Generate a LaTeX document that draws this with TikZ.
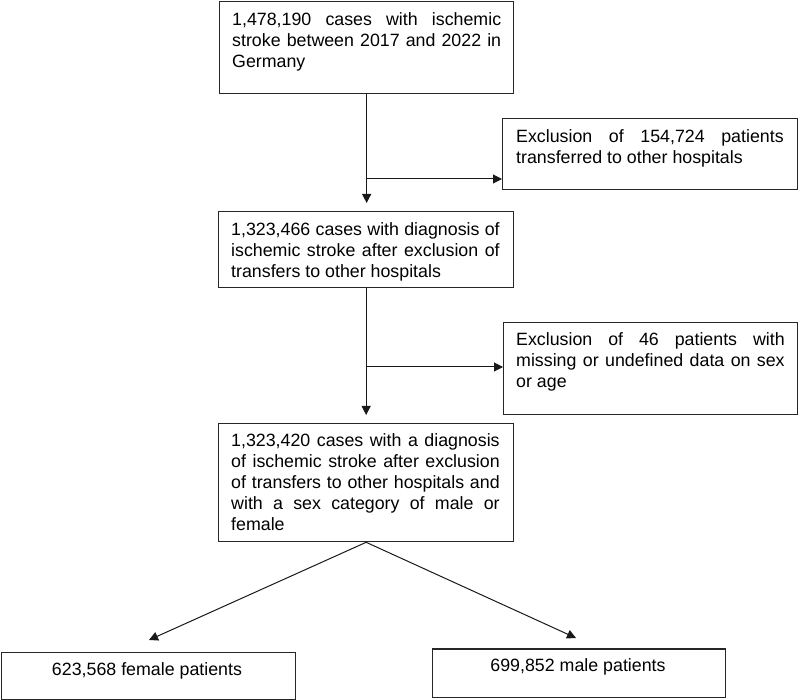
\documentclass[tikz,border=0pt]{standalone}
\usepackage{fontspec}
\setmainfont{Liberation Sans}
\usetikzlibrary{arrows.meta}
\tolerance=10000 \hbadness=10000 \hyphenpenalty=10000 \exhyphenpenalty=10000
\begin{document}
\begin{tikzpicture}[x=1pt,y=-1pt,
 box/.style={draw=black!85, line width=1.3pt, inner sep=0pt, anchor=north west},
 txt/.style={inner sep=0pt, anchor=north west, align=justify, font=\fontsize{17.8}{21}\selectfont},
 ctxt/.style={inner sep=0pt, anchor=base, font=\fontsize{17.8}{21}\selectfont},
 arr/.style={draw=black!90, line width=1pt, -{Triangle[length=9pt,width=9pt]}}]
\useasboundingbox (0,0) rectangle (798,700);
% boxes
\node[box, minimum width=294pt, minimum height=92pt] (b1) at (219,1) {};
\node[box, minimum width=295pt, minimum height=71pt] (ex1) at (502,118) {};
\node[box, minimum width=295pt, minimum height=76pt] (b2) at (218,211) {};
\node[box, minimum width=294pt, minimum height=92pt] (ex2) at (503,322) {};
\node[box, minimum width=295pt, minimum height=118pt] (b3) at (218,423) {};
\node[box, minimum width=294pt, minimum height=47.5pt] (fem) at (1,651.7) {};
\node[box, minimum width=293pt, minimum height=48.4pt] (male) at (432,648.3) {};
% texts
\node[txt, text width=269pt] (t1) at (232,12.2) {1,478,190 cases with ischemic\linebreak stroke between 2017 and 2022 in\linebreak Germany};
\node[txt, text width=268.5pt] (t2) at (231,222.7) {1,323,466 cases with diagnosis of\linebreak ischemic stroke after exclusion of\linebreak transfers to other hospitals};
\node[txt, text width=268.5pt] (t3) at (231,433.9) {1,323,420 cases with a diagnosis\linebreak of ischemic stroke after exclusion\linebreak of transfers to other hospitals and\linebreak with a sex category of male or\linebreak female};
\node[txt, text width=267.5pt] (te1) at (516,129.9) {Exclusion of 154,724 patients\linebreak transferred to other hospitals};
\node[txt, text width=268.5pt] (te2) at (516,332.2) {Exclusion of 46 patients with\linebreak missing or undefined data on sex\linebreak or age};
\node[ctxt] (tf) at (147,675) {623,568 female patients};
\node[ctxt] (tm) at (578,671.7) {699,852 male patients};
% connectors
\draw[arr] (b1.south) -- ([yshift=8pt]b1.south |- b2.north);
\coordinate (j1) at (366,179);
\draw[arr] (j1) -- (j1 -| ex1.west);
\draw[arr] (b2.south) -- ([yshift=8pt]b2.south |- b3.north);
\coordinate (j2) at (366,367);
\draw[arr] (j2) -- (j2 -| ex2.west);
\coordinate (af) at (149,640);
\coordinate (am) at (576,638);
\draw[arr] (b3.south) -- (af);
\draw[arr] (b3.south) -- (am);
\end{tikzpicture}
\end{document}
